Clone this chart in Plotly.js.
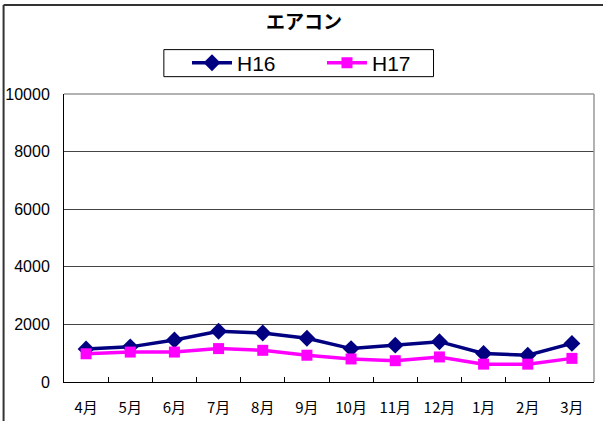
<!DOCTYPE html>
<html>
<head>
<meta charset="utf-8">
<script src="https://cdn.plot.ly/plotly-3.0.1.min.js"></script>
<style>
html,body{margin:0;padding:0;background:#fff;}
#chart{width:603px;height:421px;}
</style>
</head>
<body>
<div id="chart"></div>
<script>
var months = ['4月','5月','6月','7月','8月','9月','10月','11月','12月','1月','2月','3月'];
var h16 = [1150, 1220, 1460, 1760, 1700, 1520, 1160, 1280, 1400, 990, 930, 1340];
var h17 = [980, 1040, 1040, 1160, 1100, 930, 800, 740, 870, 620, 620, 820];
var yTicks = [0, 2000, 4000, 6000, 8000, 10000];

var numFont = 'Liberation Sans, Arial, sans-serif';
var cjkFont = 'Noto Sans CJK JP, sans-serif';

var traces = [
  {x: months, y: h16, name: 'H16', type: 'scatter', mode: 'lines+markers',
   line: {color: '#000080', width: 3.5},
   marker: {symbol: 'diamond', size: 13, color: '#000080'}},
  {x: months, y: h17, name: 'H17', type: 'scatter', mode: 'lines+markers',
   line: {color: '#FF00FF', width: 3.5},
   marker: {symbol: 'square', size: 11, color: '#FF00FF'}}
];

var layout = {
  width: 603, height: 421,
  margin: {l: 64, r: 9, t: 94, b: 39, pad: 0},
  paper_bgcolor: '#fff', plot_bgcolor: '#fff',
  title: {text: '<b>エアコン</b>', font: {family: cjkFont, size: 19, color: '#000'},
          xref: 'container', yref: 'container', x: 0.504, y: 0.948, xanchor: 'center', yanchor: 'middle'},
  showlegend: true,
  legend: {orientation: 'h', x: 0.188, y: 1.1071, xanchor: 'left', yanchor: 'middle',
           borderwidth: 0, bgcolor: 'rgba(0,0,0,0)',
           font: {family: numFont, size: 21, color: '#000'},
           title: {text: '\u00a0\u00a0\u00a0', side: 'left', font: {family: numFont, size: 16}},
           entrywidth: 80, entrywidthmode: 'pixels', itemwidth: 40},
  xaxis: {type: 'category', range: [-0.5, 11.5], showgrid: false, showline: true, linecolor: '#000', linewidth: 1,
          ticks: 'inside', tickson: 'boundaries', ticklen: 5, tickcolor: '#000', tickwidth: 1,
          tickfont: {family: cjkFont, size: 15, color: '#000'}, ticklabelstandoff: 12,
          fixedrange: true},
  yaxis: {range: [0, 10000], tickvals: yTicks, ticktext: yTicks.map(String),
          showgrid: true, gridcolor: '#444', gridwidth: 1, zeroline: false,
          showline: true, linecolor: '#000', linewidth: 1, ticks: '',
          tickfont: {family: numFont, size: 16, color: '#000'}, ticklabelstandoff: 10,
          fixedrange: true},
  shapes: [
    {type: 'line', xref: 'paper', yref: 'paper', x0: 0, x1: 1, y0: 1, y1: 1, line: {color: '#999', width: 1.5}},
    {type: 'line', xref: 'paper', yref: 'paper', x0: 1, x1: 1, y0: 0, y1: 1, line: {color: '#999', width: 1.5}},
    {type: 'line', xref: 'paper', yref: 'paper', x0: -0.114, x1: -0.114, y0: -0.2, y1: 1.309, line: {color: '#333', width: 2}},
    {type: 'line', xref: 'paper', yref: 'paper', x0: -0.114, x1: 1.1, y0: 1.309, y1: 1.309, line: {color: '#333', width: 2}},
    {type: 'rect', xref: 'paper', yref: 'paper', x0: 0.1884, x1: 0.6972, y0: 1.0602, y1: 1.1541,
     line: {color: '#000', width: 1}, fillcolor: 'rgba(0,0,0,0)', layer: 'below'}
  ]
};

Plotly.newPlot('chart', traces, layout, {displayModeBar: false, staticPlot: true});
</script>
</body>
</html>
